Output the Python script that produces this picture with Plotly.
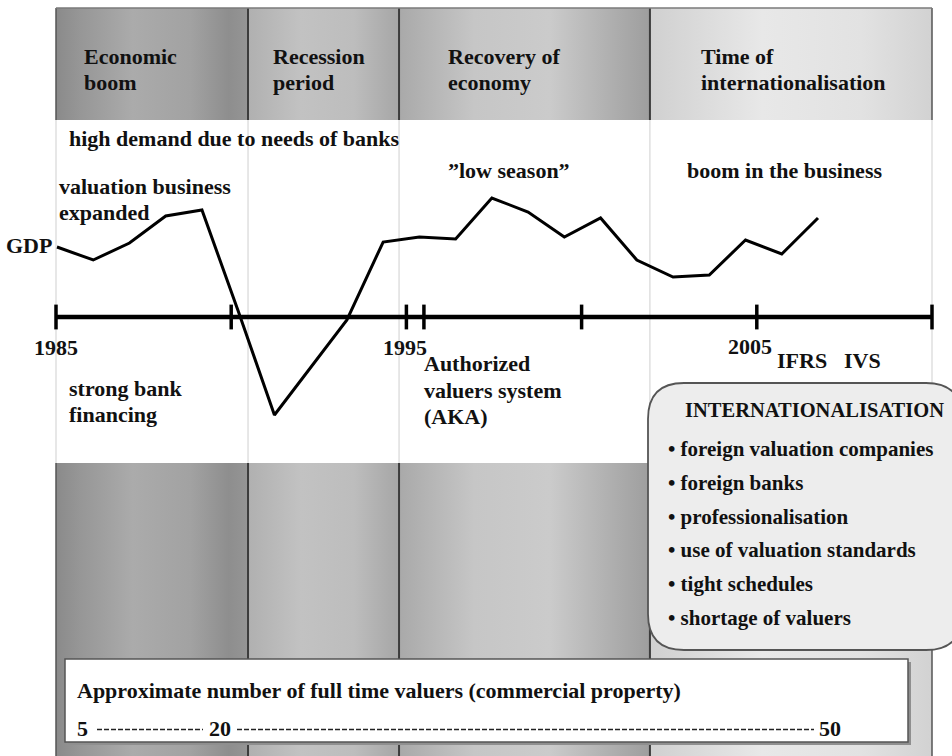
import plotly.graph_objects as go

# ---------------- data ----------------
gdp_years = list(range(1985, 2007))
gdp_growth = [3.5, 2.85, 3.7, 5.05, 5.35, 0.3, -4.9, -2.5, -0.15, 3.75, 4.0,
              3.9, 5.95, 5.25, 4.0, 4.95, 2.85, 2.0, 2.1, 3.85, 3.15, 4.95]

period_bounds = [1985, 1990.48, 1994.79, 2001.95, 2010]
period_titles = [["Economic", "boom"], ["Recession", "period"],
                 ["Recovery of", "economy"], ["Time of", "internationalisation"]]
period_gradients = [
    [[0, "#8a8a8a"], [0.12, "#969696"], [0.4, "#ababab"], [0.7, "#a2a2a2"], [0.9, "#8e8e8e"], [1, "#959595"]],
    [[0, "#b0b0b0"], [0.35, "#c2c2c2"], [0.7, "#bdbdbd"], [1, "#a6a6a6"]],
    [[0, "#a9a9a9"], [0.3, "#c6c6c6"], [0.6, "#cbcbcb"], [0.88, "#ababab"], [1, "#9e9e9e"]],
    [[0, "#d0d0d0"], [0.4, "#e8e8e8"], [0.75, "#e2e2e2"], [1, "#d2d2d2"]],
]

timeline_ticks = [1985, 1990, 1995, 1995.5, 2000, 2005, 2010]
year_labels = ["1985", "1995", "2005"]

intl_items = ["foreign valuation companies", "foreign banks", "professionalisation",
              "use of valuation standards", "tight schedules", "shortage of valuers"]
valuer_counts = ["5", "20", "50"]

# ---------------- geometry helpers (layout only) ----------------
W, H = 952, 756
def X(p):
    return p / W
def Y(p):
    return 1 - p / H

# band limits in y-axis units (GDP %, 0 = timeline)
HEAD_TOP, HEAD_BOT = 15.45, 9.85
LOW_TOP, LOW_BOT = -7.3, -22.5

FONT = "Liberation Serif, Times New Roman, serif"

fig = go.Figure()

# column gradient bands
for i in range(4):
    x0, x1 = period_bounds[i], period_bounds[i + 1]
    for (ya, yb) in [(HEAD_TOP, HEAD_BOT), (LOW_TOP, LOW_BOT)]:
        fig.add_trace(go.Scatter(
            x=[x0, x1, x1, x0, x0], y=[ya, ya, yb, yb, ya],
            mode="lines", line=dict(width=0), fill="toself",
            fillgradient=dict(type="horizontal", colorscale=period_gradients[i]),
            hoverinfo="skip", showlegend=False))

# thin light lines in the white band
lx, ly = [], []
for b in period_bounds:
    lx += [b, b, None]
    ly += [HEAD_BOT, LOW_TOP, None]
fig.add_trace(go.Scatter(x=lx, y=ly, mode="lines", line=dict(color="#cfcfcf", width=1),
                         hoverinfo="skip", showlegend=False))

# dark dividers in header and lower band
dx, dy = [], []
for b in period_bounds[1:-1]:
    dx += [b, b, None, b, b, None]
    dy += [HEAD_TOP, HEAD_BOT, None, LOW_TOP, LOW_BOT, None]
fig.add_trace(go.Scatter(x=dx, y=dy, mode="lines", line=dict(color="#3c3c3c", width=2),
                         hoverinfo="skip", showlegend=False))
ex, ey = [], []
for b in [period_bounds[0], period_bounds[-1]]:
    ex += [b, b, None, b, b, None]
    ey += [HEAD_TOP, HEAD_BOT, None, LOW_TOP, LOW_BOT, None]
fig.add_trace(go.Scatter(x=ex, y=ey, mode="lines", line=dict(color="#555555", width=1.5),
                         hoverinfo="skip", showlegend=False))
# top border of header
fig.add_trace(go.Scatter(x=[period_bounds[0], period_bounds[-1]], y=[HEAD_TOP, HEAD_TOP],
                         mode="lines", line=dict(color="#7a7a7a", width=1.5),
                         hoverinfo="skip", showlegend=False))

# timeline
fig.add_trace(go.Scatter(x=[timeline_ticks[0], timeline_ticks[-1]], y=[0, 0], mode="lines",
                         line=dict(color="#000000", width=4.5), hoverinfo="skip", showlegend=False))
tx, ty = [], []
for t in timeline_ticks:
    tx += [t, t, None]
    ty += [0.62, -0.62, None]
fig.add_trace(go.Scatter(x=tx, y=ty, mode="lines", line=dict(color="#000000", width=3.5),
                         hoverinfo="skip", showlegend=False))

# GDP line
fig.add_trace(go.Scatter(x=gdp_years, y=gdp_growth, xaxis="x2", yaxis="y", mode="lines",
                         line=dict(color="#000000", width=3), hoverinfo="skip", showlegend=False))

shapes = []
# rounded INTERNATIONALISATION box
bx0, by0, bx1, by1, r = 648, 383, 962, 650, 36
rx, ry = r / W, r / H
path = (f"M {X(bx0)+rx},{Y(by0)} L {X(bx1)-rx},{Y(by0)} Q {X(bx1)},{Y(by0)} {X(bx1)},{Y(by0)-ry} "
        f"L {X(bx1)},{Y(by1)+ry} Q {X(bx1)},{Y(by1)} {X(bx1)-rx},{Y(by1)} "
        f"L {X(bx0)+rx},{Y(by1)} Q {X(bx0)},{Y(by1)} {X(bx0)},{Y(by1)+ry} "
        f"L {X(bx0)},{Y(by0)-ry} Q {X(bx0)},{Y(by0)} {X(bx0)+rx},{Y(by0)} Z")
shapes.append(dict(type="path", path=path, xref="paper", yref="paper",
                   fillcolor="#ededed", line=dict(color="#555555", width=1.8), layer="above"))

# bottom valuers box with shadow
shapes.append(dict(type="rect", xref="paper", yref="paper", x0=X(68), x1=X(911), y0=Y(662), y1=Y(745),
                   fillcolor="#8f8f8f", line=dict(width=0), layer="above"))
shapes.append(dict(type="rect", xref="paper", yref="paper", x0=X(65), x1=X(908), y0=Y(659), y1=Y(742),
                   fillcolor="#ffffff", line=dict(color="#555555", width=1.5), layer="above"))
# dashed leaders between the counts
for (a, b) in [(97, 203), (237, 814)]:
    shapes.append(dict(type="line", xref="paper", yref="paper", x0=X(a), x1=X(b), y0=Y(729.5), y1=Y(729.5),
                       line=dict(color="#222222", width=1.6, dash="5px,2px"), layer="above"))

annotations = []
def label(text, x, y, size=22, xanchor="left"):
    annotations.append(dict(text=f"<b>{text}</b>", x=X(x), y=Y(y), xref="paper", yref="paper",
                            xanchor=xanchor, yanchor="middle", showarrow=False,
                            font=dict(family=FONT, size=size, color="#111111")))

# period headers
header_x = [82, 271, 446, 699]
for i, lines in enumerate(period_titles):
    label(lines[0], header_x[i], 56)
    label(lines[1], header_x[i], 82)

label("high demand due to needs of banks", 67, 138)
label("valuation business", 57, 186)
label("expanded", 57, 212)
label("GDP", 54, 245, xanchor="right")
label("\u201dlow season\u201d", 446, 170)
label("boom in the business", 685, 170)
label(year_labels[0], 56, 348, xanchor="center")
label(year_labels[1], 405, 347, xanchor="center")
label(year_labels[2], 750, 346, xanchor="center")
label("IFRS", 775, 361)
label("IVS", 842, 361)
label("Authorized", 422, 364)
label("valuers system", 422, 390)
label("(AKA)", 422, 416)
label("strong bank", 67, 388)
label("financing", 67, 414)

label("INTERNATIONALISATION", 683, 410, size=20.5)
for k, item in enumerate(intl_items):
    label("\u2022 " + item, 666, 449 + k * 33.8, size=21)

label("Approximate number of full time valuers (commercial property)", 75, 690)
label(valuer_counts[0], 75, 728)
label(valuer_counts[1], 207, 728)
label(valuer_counts[2], 817, 728)

# axis ranges: timeline 1985 at px 56, 2010 at px 932; GDP 1985 at px 57, 2006 at px 818
tpx = (932 - 56) / 25.0
gpx = (818 - 57) / 21.0
fig.update_layout(
    width=W, height=H, margin=dict(l=0, r=0, t=0, b=0),
    paper_bgcolor="white", plot_bgcolor="white", showlegend=False,
    xaxis=dict(range=[1985 - 56 / tpx, 1985 + (W - 56) / tpx], visible=False, fixedrange=True),
    xaxis2=dict(range=[1985 - 57 / gpx, 1985 + (W - 57) / gpx], visible=False, overlaying="x",
                fixedrange=True),
    yaxis=dict(range=[-(H - 317) / 20.0, 317 / 20.0], visible=False, fixedrange=True),
    shapes=shapes, annotations=annotations,
)

fig.write_html("out.html", config={"displayModeBar": False},
               post_script="document.body.style.margin='0';document.body.style.overflow='hidden';")
